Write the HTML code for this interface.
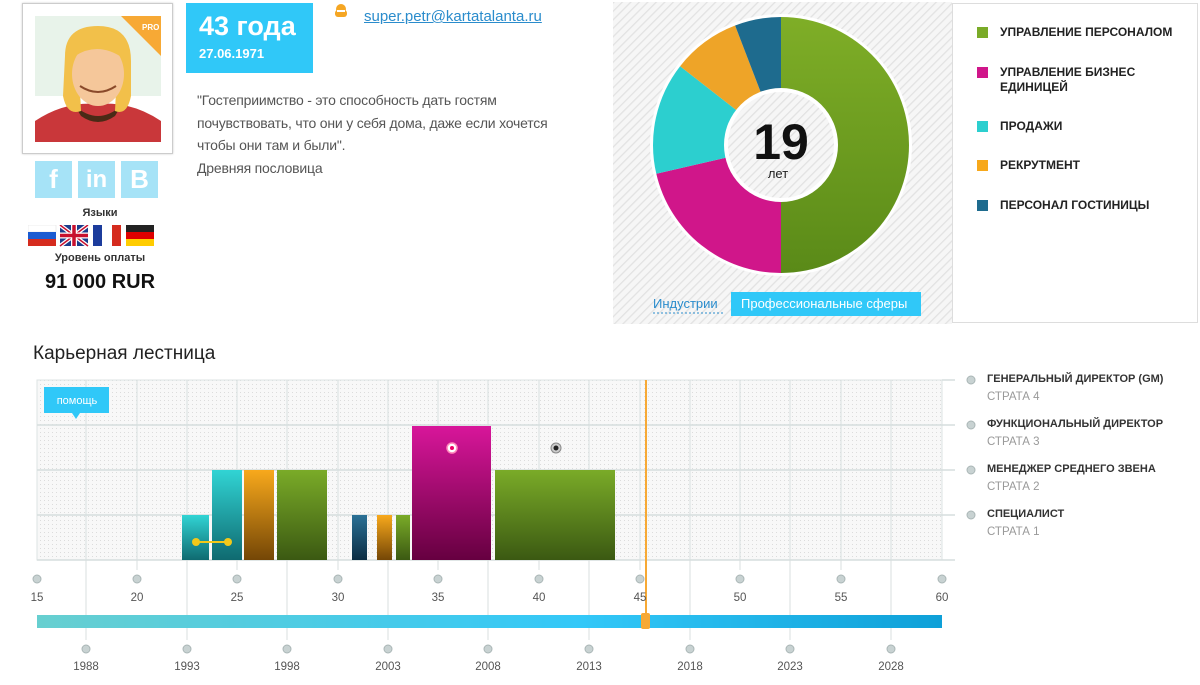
<!DOCTYPE html>
<html><head><meta charset="utf-8"><style>
*{margin:0;padding:0;box-sizing:border-box}
body{width:1200px;height:685px;background:#fff;position:relative;overflow:hidden;font-family:"Liberation Sans","DejaVu Sans",sans-serif}
.a{position:absolute}
.soc{position:absolute;top:161px;width:37px;height:37px;background:#a6e3f7;color:#fff;font-weight:bold;font-size:26px;text-align:center;line-height:37px}
.leg{position:absolute;left:977px;font-size:12px;font-weight:bold;color:#222;line-height:15px}
.leg i{position:absolute;left:0;top:2px;width:11px;height:11px}
.leg span{position:absolute;left:23px;white-space:nowrap}
.rl{position:absolute;left:987px;font-size:11px;font-weight:bold;color:#333;white-space:nowrap}
.rs{position:absolute;left:987px;font-size:11.5px;color:#999}
</style></head><body>
<!-- avatar -->
<div class="a" style="left:22px;top:3px;width:151px;height:151px;border:1px solid #ccc;box-shadow:0 0 2px #ccc;background:#fff"></div>
<svg class="a" style="left:35px;top:16px" width="126" height="126" viewBox="0 0 126 126">
<rect width="126" height="126" fill="#e8f3ea"/>
<rect y="80" width="126" height="46" fill="#fff"/>
<polygon points="86,0 126,0 126,40" fill="#f7a935"/>
<text x="107" y="14" font-size="8" fill="#fff" font-weight="bold" font-family="Liberation Sans">PRO</text>
<path d="M0,126 L0,105 Q30,85 63,88 Q96,85 126,105 L126,126Z" fill="#c9373a"/>
<path d="M40,90 Q63,110 86,90 L80,100 Q63,112 46,100Z" fill="#4a2a16"/>
<path d="M30,40 Q30,10 63,10 Q96,10 96,45 L96,80 Q92,100 80,95 L82,55 L44,55 L46,95 Q32,100 28,80Z" fill="#f2c04a"/>
<ellipse cx="63" cy="58" rx="26" ry="32" fill="#f5c79a"/>
<path d="M45,70 Q63,82 81,70" stroke="#8a4a2a" stroke-width="2" fill="none"/>
<path d="M36,30 Q63,12 92,35 L88,42 Q63,25 40,40Z" fill="#f2c04a"/>
</svg>
<div class="soc" style="left:35px">f</div>
<div class="soc" style="left:78px;font-size:24px">in</div>
<div class="soc" style="left:121px">B</div>
<div class="a" style="left:0;width:200px;top:207px;text-align:center;font-size:11px;font-weight:bold;color:#333">Языки</div>
<svg class="a" style="left:28px;top:225px" width="128" height="22">
<rect x="0" y="0" width="28" height="7" fill="#fff" stroke="#ddd" stroke-width=".5"/><rect x="0" y="7" width="28" height="7" fill="#1b5bd1"/><rect x="0" y="14" width="28" height="7" fill="#d52b1e"/>
<rect x="32" y="0" width="28" height="21" fill="#1c3c8c"/><path d="M32,0 L60,21 M60,0 L32,21" stroke="#fff" stroke-width="4"/><path d="M32,0 L60,21 M60,0 L32,21" stroke="#c8102e" stroke-width="1.5"/><path d="M46,0 V21 M32,10.5 H60" stroke="#fff" stroke-width="6"/><path d="M46,0 V21 M32,10.5 H60" stroke="#c8102e" stroke-width="3.5"/>
<rect x="65" y="0" width="9" height="21" fill="#1c3c9c"/><rect x="74" y="0" width="10" height="21" fill="#fff"/><rect x="84" y="0" width="9" height="21" fill="#d52b1e"/>
<rect x="98" y="0" width="28" height="7" fill="#222"/><rect x="98" y="7" width="28" height="7" fill="#d00"/><rect x="98" y="14" width="28" height="7" fill="#fc0"/>
</svg>
<div class="a" style="left:0;width:200px;top:252px;text-align:center;font-size:11px;font-weight:bold;color:#333">Уровень оплаты</div>
<div class="a" style="left:0;width:200px;top:271px;text-align:center;font-size:20px;font-weight:bold;color:#111">91 000 RUR</div>
<!-- age box -->
<div class="a" style="left:186px;top:3px;width:127px;height:70px;background:#30c8f8;color:#fff">
<div style="position:absolute;left:13px;top:8px;font-size:27px;font-weight:bold">43 года</div>
<div style="position:absolute;left:13px;top:43px;font-size:13px;font-weight:bold">27.06.1971</div></div>
<svg class="a" style="left:333px;top:3px" width="16" height="16"><circle cx="8" cy="6" r="5" fill="#f5a623"/><rect x="2" y="7" width="12" height="7" rx="3" fill="#f5a623"/><rect x="4" y="7" width="8" height="2" fill="#fff"/></svg>
<div class="a" style="left:364px;top:8px;font-size:15px;color:#2a8ccc;text-decoration:underline">super.petr@kartatalanta.ru</div>
<div class="a" style="left:197px;top:89px;font-size:14px;color:#555;line-height:22.5px;white-space:nowrap;letter-spacing:-0.2px">"Гостеприимство - это способность дать гостям<br>почувствовать, что они у себя дома, даже если хочется<br>чтобы они там и были".<br>Древняя пословица</div>
<!-- donut panel -->
<svg class="a" style="left:613px;top:2px" width="339" height="322">
<defs><pattern id="h" width="6" height="6" patternUnits="userSpaceOnUse" patternTransform="rotate(45)"><rect width="6" height="6" fill="#f6f6f6"/><rect width="1.3" height="6" fill="#e2e2e2"/></pattern>
<linearGradient id="gg" x1="0" y1="0" x2="0" y2="1"><stop offset="0" stop-color="#7fae27"/><stop offset="1" stop-color="#5a8a18"/></linearGradient></defs>
<rect width="339" height="322" fill="url(#h)"/>
<g transform="translate(168,143)">
<circle r="131" fill="#fff"/>
<path d="M0,-128 A128,128 0 0 1 0,128 L0,0Z" fill="url(#gg)"/>
<path d="M0,128 A128,128 0 0 1 -124.7,28.8 L0,0Z" fill="#d0168a"/>
<path d="M-124.7,28.8 A128,128 0 0 1 -100.9,-78.8 L0,0Z" fill="#2ccfcf"/>
<path d="M-100.9,-78.8 A128,128 0 0 1 -45.9,-119.5 L0,0Z" fill="#eea428"/>
<path d="M-45.9,-119.5 A128,128 0 0 1 0,-128 L0,0Z" fill="#1e6b8e"/>
<circle r="57" fill="#fff"/><circle r="53" fill="url(#h)"/>
<text x="0" y="14" text-anchor="middle" font-size="50" font-weight="bold" fill="#111" font-family="Liberation Sans">19</text>
<text x="-3" y="33" text-anchor="middle" font-size="13" fill="#222" font-family="Liberation Sans">лет</text>
</g>
<rect x="118" y="290" width="190" height="24" fill="#30c8f8"/>
<text x="40" y="306" font-size="13" fill="#2a8ccc" font-family="Liberation Sans">Индустрии</text>
<line x1="40" y1="311" x2="110" y2="311" stroke="#2a8ccc" stroke-dasharray="2,2"/>
<text x="128" y="306" font-size="13" fill="#fff" font-family="Liberation Sans">Профессиональные сферы</text>
</svg>
<div class="a" style="left:952px;top:3px;width:246px;height:320px;border:1px solid #ddd;background:#fff"></div>
<div class="leg" style="top:25px"><i style="background:#7aab28"></i><span>УПРАВЛЕНИЕ ПЕРСОНАЛОМ</span></div>
<div class="leg" style="top:65px"><i style="background:#d0168a"></i><span>УПРАВЛЕНИЕ БИЗНЕС<br>ЕДИНИЦЕЙ</span></div>
<div class="leg" style="top:119px"><i style="background:#2ccfcf"></i><span>ПРОДАЖИ</span></div>
<div class="leg" style="top:158px"><i style="background:#f7a81b"></i><span>РЕКРУТМЕНТ</span></div>
<div class="leg" style="top:198px"><i style="background:#1e6b8e"></i><span>ПЕРСОНАЛ ГОСТИНИЦЫ</span></div>
<!-- career -->
<div class="a" style="left:33px;top:343px;font-size:19px;color:#222">Карьерная лестница</div>
<svg class="a" style="left:0;top:0" width="1200" height="685">
<defs>
<pattern id="d" width="4" height="4" patternUnits="userSpaceOnUse"><rect width="4" height="4" fill="#f8f8f8"/><rect width="1" height="1" fill="#dcdcdc"/></pattern>
<linearGradient id="t" x1="0" y1="0" x2="0" y2="1"><stop offset="0" stop-color="#31d4d4"/><stop offset="1" stop-color="#0f6a70"/></linearGradient>
<linearGradient id="o" x1="0" y1="0" x2="0" y2="1"><stop offset="0" stop-color="#f8a91c"/><stop offset="1" stop-color="#744606"/></linearGradient>
<linearGradient id="g" x1="0" y1="0" x2="0" y2="1"><stop offset="0" stop-color="#7aab28"/><stop offset="1" stop-color="#3b5912"/></linearGradient>
<linearGradient id="m" x1="0" y1="0" x2="0" y2="1"><stop offset="0" stop-color="#d8169a"/><stop offset="1" stop-color="#660040"/></linearGradient>
<linearGradient id="b" x1="0" y1="0" x2="0" y2="1"><stop offset="0" stop-color="#2b7196"/><stop offset="1" stop-color="#0b2c42"/></linearGradient>
<linearGradient id="tl" x1="0" y1="0" x2="1" y2="0"><stop offset="0" stop-color="#67cfd0"/><stop offset=".6" stop-color="#33c8f8"/><stop offset="1" stop-color="#0ea0d8"/></linearGradient>
</defs>
<rect x="37" y="380" width="905" height="180" fill="url(#d)"/>
<rect x="37" y="380" width="905" height="180" fill="none" stroke="#dde3e3"/>
<g stroke="#d6dede" stroke-width="1.5"><line x1="37" x2="955" y1="425" y2="425"/><line x1="37" x2="955" y1="470" y2="470"/><line x1="37" x2="955" y1="515" y2="515"/><line x1="37" x2="955" y1="560" y2="560"/><line x1="942" x2="955" y1="380" y2="380"/></g>
<g stroke="#d8dfdf" stroke-width="1">
<line x1="137" x2="137" y1="380" y2="570"/><line x1="237" x2="237" y1="380" y2="570"/><line x1="338" x2="338" y1="380" y2="570"/><line x1="438" x2="438" y1="380" y2="570"/><line x1="539" x2="539" y1="380" y2="570"/><line x1="640" x2="640" y1="380" y2="570"/><line x1="740" x2="740" y1="380" y2="570"/><line x1="841" x2="841" y1="380" y2="570"/>
<line x1="86" x2="86" y1="380" y2="640"/><line x1="187" x2="187" y1="380" y2="640"/><line x1="287" x2="287" y1="380" y2="640"/><line x1="388" x2="388" y1="380" y2="640"/><line x1="488" x2="488" y1="380" y2="640"/><line x1="589" x2="589" y1="380" y2="640"/><line x1="690" x2="690" y1="380" y2="640"/><line x1="790" x2="790" y1="380" y2="640"/><line x1="891" x2="891" y1="380" y2="640"/>
</g>
<rect x="182" y="515" width="27" height="45" fill="url(#t)"/>
<rect x="212" y="470" width="30" height="90" fill="url(#t)"/>
<rect x="244" y="470" width="30" height="90" fill="url(#o)"/>
<rect x="277" y="470" width="50" height="90" fill="url(#g)"/>
<rect x="352" y="515" width="15" height="45" fill="url(#b)"/>
<rect x="377" y="515" width="15" height="45" fill="url(#o)"/>
<rect x="396" y="515" width="14" height="45" fill="url(#g)"/>
<rect x="412" y="426" width="79" height="134" fill="url(#m)"/>
<rect x="495" y="470" width="120" height="90" fill="url(#g)"/>
<line x1="196" x2="228" y1="542" y2="542" stroke="#f2c81a" stroke-width="2"/>
<circle cx="196" cy="542" r="4" fill="#f2c81a"/><circle cx="228" cy="542" r="4" fill="#f2c81a"/>
<circle cx="452" cy="448" r="5" fill="#fff" stroke="#f8b" stroke-width="1.5"/><circle cx="452" cy="448" r="2" fill="#e06"/>
<circle cx="556" cy="448" r="5" fill="#ccc" stroke="#888"/><circle cx="556" cy="448" r="2.5" fill="#222"/>
<rect x="44" y="387" width="65" height="26" fill="#30c8f8"/><polygon points="72,413 80,413 76,419" fill="#30c8f8"/>
<text x="77" y="404" text-anchor="middle" font-size="11" fill="#fff" font-family="Liberation Sans">помощь</text>
<line x1="646" x2="646" y1="380" y2="628" stroke="#f7a935" stroke-width="2"/>
<rect x="37" y="615" width="905" height="13" fill="url(#tl)"/>
<rect x="641" y="613" width="9" height="16" rx="2" fill="#f7a935"/>
<g fill="#c8d2d2" stroke="#aab6b6">
<circle cx="37" cy="579" r="4"/><circle cx="137" cy="579" r="4"/><circle cx="237" cy="579" r="4"/><circle cx="338" cy="579" r="4"/><circle cx="438" cy="579" r="4"/><circle cx="539" cy="579" r="4"/><circle cx="640" cy="579" r="4"/><circle cx="740" cy="579" r="4"/><circle cx="841" cy="579" r="4"/><circle cx="942" cy="579" r="4"/>
<circle cx="86" cy="649" r="4"/><circle cx="187" cy="649" r="4"/><circle cx="287" cy="649" r="4"/><circle cx="388" cy="649" r="4"/><circle cx="488" cy="649" r="4"/><circle cx="589" cy="649" r="4"/><circle cx="690" cy="649" r="4"/><circle cx="790" cy="649" r="4"/><circle cx="891" cy="649" r="4"/>
<circle cx="971" cy="380" r="4"/><circle cx="971" cy="425" r="4"/><circle cx="971" cy="470" r="4"/><circle cx="971" cy="515" r="4"/>
</g>
<g font-size="11.5" fill="#555" text-anchor="middle" font-family="Liberation Sans">
<text x="37" y="601">15</text><text x="137" y="601">20</text><text x="237" y="601">25</text><text x="338" y="601">30</text><text x="438" y="601">35</text><text x="539" y="601">40</text><text x="640" y="601">45</text><text x="740" y="601">50</text><text x="841" y="601">55</text><text x="942" y="601">60</text>
<text x="86" y="670">1988</text><text x="187" y="670">1993</text><text x="287" y="670">1998</text><text x="388" y="670">2003</text><text x="488" y="670">2008</text><text x="589" y="670">2013</text><text x="690" y="670">2018</text><text x="790" y="670">2023</text><text x="891" y="670">2028</text>
</g>
</svg>
<div class="rl" style="top:373px">ГЕНЕРАЛЬНЫЙ ДИРЕКТОР (GM)</div><div class="rs" style="top:391px">СТРАТА 4</div>
<div class="rl" style="top:418px">ФУНКЦИОНАЛЬНЫЙ ДИРЕКТОР</div><div class="rs" style="top:436px">СТРАТА 3</div>
<div class="rl" style="top:463px">МЕНЕДЖЕР СРЕДНЕГО ЗВЕНА</div><div class="rs" style="top:481px">СТРАТА 2</div>
<div class="rl" style="top:508px">СПЕЦИАЛИСТ</div><div class="rs" style="top:526px">СТРАТА 1</div>
</body></html>
